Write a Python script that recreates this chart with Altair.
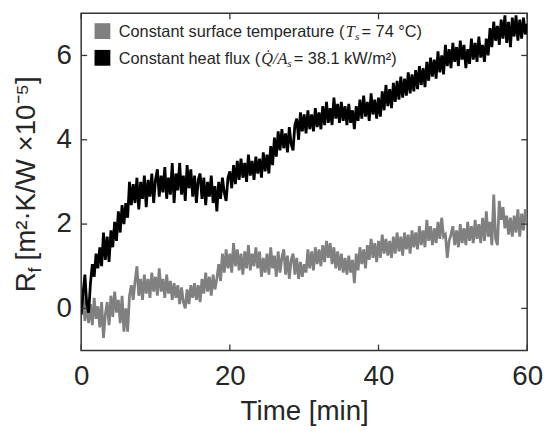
import altair as alt
import pandas as pd

# time axis sampled every 0.25 min (0 .. 60)
time_min = [i * 0.25 for i in range(241)]

# Constant heat flux series (black)
heat_flux = [
    -0.15, 0.35, 0.8, 0.1, -0.1, 0.6, 1.05, 0.75, 1.3, 0.95, 1.45, 1.0, 1.8, 1.15, 1.7, 1.1, 1.85, 1.45, 2.05, 1.6,
    2.3, 1.8, 2.45, 2.0, 2.5, 2.15, 3.0, 2.45, 2.95, 2.5, 3.1, 2.35, 3.0, 2.6, 3.15, 2.4, 3.05, 2.65, 3.2, 2.5,
    3.05, 3.3, 2.65, 3.15, 2.75, 3.35, 2.6, 3.1, 2.7, 3.45, 2.5, 3.2, 2.8, 3.45, 2.7, 3.15, 2.55, 3.4, 2.85, 3.3,
    2.65, 3.15, 2.5, 3.05, 3.2, 2.6, 3.1, 2.45, 3.0, 2.65, 3.15, 2.5, 2.9, 2.3, 3.0, 2.6, 3.1, 2.75, 2.55, 3.1,
    3.25, 2.85, 3.4, 2.95, 3.5, 3.05, 3.55, 3.1, 3.45, 3.0, 3.65, 3.15, 3.5, 3.05, 3.6, 3.2, 3.55, 3.1, 3.7, 3.25,
    3.65, 3.2, 3.85, 3.4, 4.05, 3.6, 4.2, 3.75, 4.25, 3.8, 4.15, 3.7, 4.3, 3.9, 3.75, 4.35, 4.5, 4.0, 4.65, 4.2,
    4.6, 4.15, 4.7, 4.25, 4.6, 4.2, 4.75, 4.3, 4.65, 4.25, 4.8, 4.35, 4.9, 4.4, 4.75, 4.35, 5.0, 4.5, 4.85, 4.4,
    4.9, 4.45, 4.8, 4.35, 4.85, 4.4, 4.7, 4.25, 4.8, 4.45, 4.95, 4.5, 5.05, 4.55, 4.9, 4.45, 5.1, 4.6, 4.95, 4.5,
    5.0, 4.55, 5.15, 4.7, 5.3, 4.8, 5.2, 4.75, 5.35, 4.9, 5.4, 4.95, 5.5, 5.0, 5.45, 5.05, 5.6, 5.1, 5.55, 5.15,
    5.65, 5.2, 5.75, 5.3, 5.7, 5.25, 5.85, 5.4, 5.95, 5.5, 5.9, 5.45, 6.1, 5.6, 6.0, 5.55, 6.25, 5.75, 6.15, 5.7,
    6.3, 5.85, 6.2, 5.75, 6.35, 5.9, 6.25, 5.7, 6.15, 5.8, 6.4, 5.9, 6.3, 5.85, 6.45, 5.95, 6.25, 5.85, 6.4, 6.0,
    6.65, 6.2, 6.8, 6.35, 6.7, 6.25, 6.85, 6.4, 6.95, 6.3, 6.8, 6.2, 6.9, 6.45, 6.95, 6.35, 6.85, 6.4, 6.9, 6.5,
    6.75,
]

# Constant surface temperature series (gray)
surface_temp = [
    -0.15, 0.4, -0.3, 0.2, -0.35, 0.1, -0.4, 0.25, -0.25, 0.05, -0.45, 0.15, -0.7, -0.15, 0.15, -0.4, 0.3, -0.2, 0.4, -0.1,
    0.2, -0.35, 0.3, -0.55, 0.0, -0.55, 0.3, 0.55, 0.2, 0.65, 1.0, 0.3, 0.7, 0.2, 0.8, 0.35, 0.7, 0.25, 0.85, 0.4,
    0.75, 0.3, 0.95, 0.4, 0.7, 0.25, 0.8, 0.35, 0.65, 0.2, 0.6, 0.25, 0.55, 0.1, 0.5, 0.15, 0.0, 0.45, 0.1, 0.55,
    0.25, 0.6, 0.2, 0.55, 0.15, 0.7, 0.35, 0.85, 0.4, 0.75, 0.3, 0.8, 0.45, 0.7, 1.05, 0.65, 1.3, 0.85, 1.4, 0.95,
    1.3, 0.85, 1.55, 1.0, 1.4, 0.9, 1.3, 0.8, 1.35, 0.95, 1.5, 0.9, 1.3, 1.0, 1.45, 0.95, 1.35, 0.75, 1.2, 0.85,
    1.3, 0.8, 1.45, 0.95, 1.25, 0.75, 1.35, 0.85, 1.2, 1.4, 0.8, 1.25, 0.7, 1.15, 1.3, 0.8, 1.2, 0.7, 1.1, 0.75,
    1.05, 0.85, 1.4, 0.95, 1.35, 0.9, 1.45, 1.05, 1.4, 1.0, 1.5, 1.1, 1.6, 1.2, 1.55, 1.05, 1.45, 0.95, 1.35, 0.9,
    1.3, 0.85, 1.2, 0.8, 1.25, 0.85, 1.15, 0.6, 1.3, 0.9, 1.45, 1.05, 1.4, 0.95, 1.5, 1.15, 1.65, 1.2, 1.55, 1.1,
    1.6, 1.2, 1.75, 1.3, 1.65, 1.25, 1.6, 1.2, 1.7, 1.3, 1.8, 1.35, 1.7, 1.25, 1.8, 1.4, 1.75, 1.3, 1.85, 1.45,
    1.8, 1.4, 1.95, 1.5, 1.85, 1.45, 2.1, 1.6, 1.95, 1.5, 1.9, 1.55, 2.05, 1.65, 2.15, 1.7, 1.75, 1.2, 1.6, 1.75,
    1.95, 1.5, 1.85, 1.45, 2.0, 1.55, 1.9, 1.5, 2.05, 1.6, 1.95, 1.55, 2.1, 1.65, 2.0, 1.55, 2.15, 1.6, 2.3, 1.7,
    2.05, 1.5, 2.7, 1.65, 1.5, 2.55, 2.1, 2.4, 1.9, 2.2, 1.75, 2.15, 1.7, 2.2, 1.8, 2.35, 1.7, 2.25, 1.85, 2.35,
    2.05,
]

x_ticks = [0, 20, 40, 60]
y_ticks = [0, 2, 4, 6]

W, H = 451, 341
FONT = "Liberation Sans"
SERIF = "Liberation Serif"
TXT = "#262626"

df_gray = pd.DataFrame({"t": time_min, "rf": surface_temp})
df_black = pd.DataFrame({"t": time_min, "rf": heat_flux})
df_xt = pd.DataFrame({"t": x_ticks})
df_yt = pd.DataFrame({"rf": y_ticks})
one = pd.DataFrame({"a": [0]})

xscale = alt.Scale(domain=[0, 60], nice=False, zero=False)
yscale = alt.Scale(domain=[-1, 7], nice=False, zero=False)

x_axis = alt.Axis(values=x_ticks, title="Time [min]", grid=False, domain=False, ticks=False, tickSize=0,
                  labelFontSize=28, labelFont=FONT, labelColor=TXT, labelPadding=12,
                  titleFontSize=28, titleFont=FONT, titleFontWeight="normal", titleColor=TXT,
                  titlePadding=8, labelFlush=False)
y_axis = alt.Axis(values=y_ticks, title="", grid=False, domain=False, ticks=False, tickSize=0,
                  labelFontSize=28, labelFont=FONT, labelColor=TXT, labelPadding=10, labelFlush=False)

gray_line = alt.Chart(df_gray).mark_line(color="#808080", strokeWidth=2.8, clip=True).encode(
    x=alt.X("t:Q", scale=xscale, axis=x_axis),
    y=alt.Y("rf:Q", scale=yscale, axis=y_axis),
)
black_line = alt.Chart(df_black).mark_line(color="#000000", strokeWidth=2.8, clip=True).encode(
    x=alt.X("t:Q", scale=xscale),
    y=alt.Y("rf:Q", scale=yscale),
)

tick_style = dict(color="#333333", strokeWidth=1.3)
xt_bottom = alt.Chart(df_xt).mark_rule(**tick_style).encode(
    x=alt.X("t:Q", scale=xscale), y=alt.value(H), y2=alt.value(H - 6))
xt_top = alt.Chart(df_xt).mark_rule(**tick_style).encode(
    x=alt.X("t:Q", scale=xscale), y=alt.value(0), y2=alt.value(6))
yt_left = alt.Chart(df_yt).mark_rule(**tick_style).encode(
    y=alt.Y("rf:Q", scale=yscale), x=alt.value(0), x2=alt.value(6))
yt_right = alt.Chart(df_yt).mark_rule(**tick_style).encode(
    y=alt.Y("rf:Q", scale=yscale), x=alt.value(W), x2=alt.value(W - 6))

def txt(text, x, y, size, font=FONT, style="normal", angle=0):
    kw = dict(text=text, align="left", baseline="alphabetic", font=font, fontSize=size,
              color=TXT, fontStyle=style)
    if angle:
        kw["angle"] = angle
    return alt.Chart(one).mark_text(**kw).encode(x=alt.value(x), y=alt.value(y))

# Y-axis title with subscript
ytitle = [
    txt("R", -47, 282, 28, angle=270),
    txt("f", -41, 262, 18, angle=270),
    txt("[m²·K/W ×10⁻⁵]", -47, 250, 28, angle=270),
]

# Legend
LS = 16.5
sq_gray = alt.Chart(one).mark_square(size=256, color="#808080", opacity=1).encode(
    x=alt.value(21.5), y=alt.value(18))
sq_black = alt.Chart(one).mark_square(size=256, color="#000000", opacity=1).encode(
    x=alt.value(21.5), y=alt.value(45))
legend = [
    sq_gray, sq_black,
    txt("Constant surface temperature (", 38, 24, LS),
    txt("T", 267.5, 24, LS, font=SERIF, style="italic"),
    txt("s", 277, 27, 11.5, font=SERIF, style="italic"),
    txt(" = 74 °C)", 283.5, 24, LS),
    txt("Constant heat flux (", 38, 51, LS),
    txt("Q\u0307/A", 182, 51, LS, font=SERIF, style="italic"),
    txt("s", 208.5, 54, 11.5, font=SERIF, style="italic"),
    txt(" = 38.1 kW/m²)", 215, 51, LS),
]

chart = alt.layer(
    gray_line, black_line, xt_bottom, xt_top, yt_left, yt_right, *ytitle, *legend
).properties(
    width=W, height=H,
    autosize=alt.AutoSizeParams(type="none"),
    padding={"left": 74, "top": 3, "right": 16, "bottom": 80},
).configure_view(stroke="#333333", strokeWidth=1.5)

chart.save("out.html", embed_options={"renderer": "svg", "actions": False})
